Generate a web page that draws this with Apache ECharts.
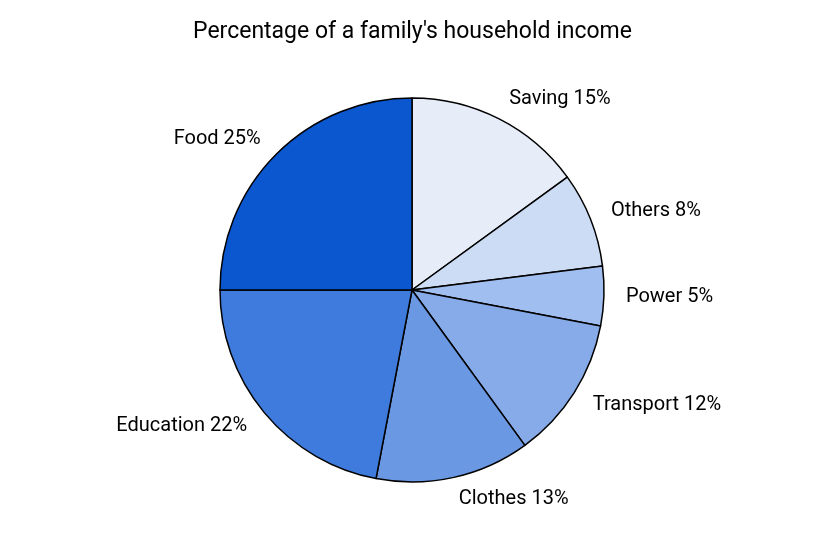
<!DOCTYPE html>
<html><head><meta charset="utf-8">
<script src="https://cdn.jsdelivr.net/npm/echarts@6/dist/echarts.min.js"></script>
<style>html,body{margin:0;padding:0;background:#fff}#c{width:825px;height:550px}</style>
</head><body><div id="c"></div>
<script>
const categories = ['Saving','Others','Power','Transport','Clothes','Education','Food'];
const values = [15, 8, 5, 12, 13, 22, 25];
const colors = ['#e6edf9','#cddcf5','#a1bef0','#86abe8','#6b98e3','#3f7bdc','#0b57d0'];
const chart = echarts.init(document.getElementById('c'));
chart.setOption({
  title:{text:"Percentage of a family's household income",left:'center',top:16,
    textStyle:{fontFamily:'Roboto',fontSize:23,fontWeight:'normal',color:'#000'}},
  series:[{
    type:'pie', center:[412,290], radius:192, startAngle:90, clockwise:true,
    animation:false,
    data:categories.map((c,i)=>({name:c,value:values[i],itemStyle:{color:colors[i]}})),
    itemStyle:{borderColor:'#000',borderWidth:1.5},
    label:{show:true,position:'outside',formatter:'{b} {c}%',fontFamily:'Roboto',fontSize:20,color:'#000',distanceToLabelLine:0},
    labelLine:{show:false,length:22,length2:0}
  }]
});
</script></body></html>
